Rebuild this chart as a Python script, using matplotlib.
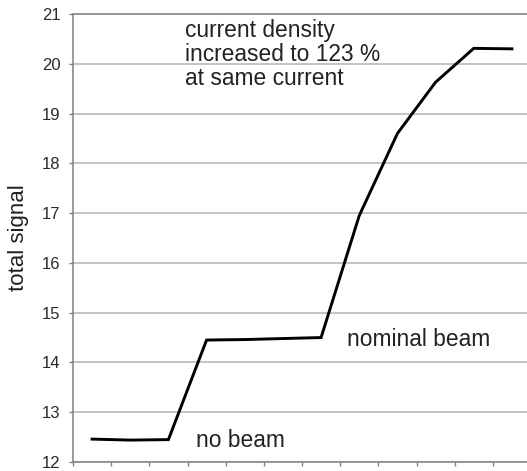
import matplotlib
matplotlib.use("Agg")
import matplotlib.pyplot as plt
import numpy as np

plt.rcParams['font.family'] = ['Liberation Sans', 'DejaVu Sans']

# data
signal = [12.46, 12.44, 12.45, 14.45, 14.46, 14.48, 14.50, 16.95, 18.60, 19.63, 20.31, 20.30]
y_ticks = [12, 13, 14, 15, 16, 17, 18, 19, 20, 21]
n = len(signal)

W, H = 527, 471
fig = plt.figure(figsize=(W / 100, H / 100), dpi=100)
ax = fig.add_axes([73 / W, (H - 462) / H, (531 - 73) / W, (462 - 14) / H])

x = np.arange(n) + 0.5
ax.plot(x, signal, color='black', lw=2.1, solid_joinstyle='miter')

ax.set_xlim(0, n)
ax.set_ylim(12, 21)
ax.set_yticks(y_ticks)
ax.set_xticks(np.arange(n + 1))
ax.set_xticklabels([])
ax.grid(axis='y', color='#b4b4b4', lw=1.1)
ax.set_axisbelow(True)
ax.spines['right'].set_visible(False)
for s in ['left', 'bottom', 'top']:
    ax.spines[s].set_color('#808080')
    ax.spines[s].set_linewidth(1.1)
ax.tick_params(axis='both', colors='#808080', length=3, width=1)
ax.tick_params(axis='y', labelcolor='#2a2a2a', labelsize=12, pad=6)
ax.set_ylabel('total signal', fontsize=16, color='#222222', labelpad=9)

fs = 16.4
ax.text(2.93, 20.9, 'current density\nincreased to 123 %\nat same current',
        fontsize=fs, color='#222222', va='top', ha='left', linespacing=1.05)
ax.text(7.17, 14.47, 'nominal beam', fontsize=fs, color='#222222', va='center', ha='left')
ax.text(3.22, 12.44, 'no beam', fontsize=fs, color='#222222', va='center', ha='left')

fig.savefig('out.png', dpi=100)
